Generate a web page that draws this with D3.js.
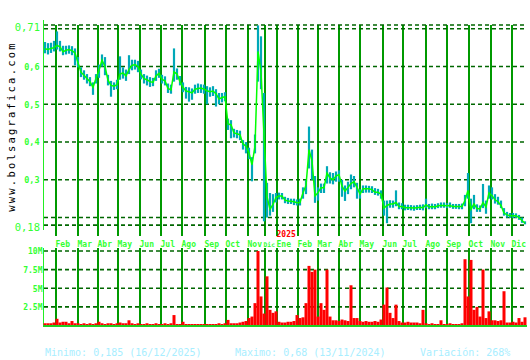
<!DOCTYPE html>
<html>
<head>
<meta charset="utf-8">
<script src="https://cdn.jsdelivr.net/npm/d3@7"></script>
<style>
  body { margin: 0; background: #fff; }
  svg { display: block; }
  text { font-family: "DejaVu Sans Mono", monospace; }
</style>
</head>
<body>
<svg id="chart"></svg>
<script>
// ---- data (one sample every 3 trading days, from mid Jan 2024 to 16/12/2025) ----
const sampleStep = 3; // trading days between samples
const totalDays = 480;

const close = [
  0.647, 0.645, 0.648, 0.650, 0.656, 0.652, 0.639, 0.643, 0.645, 0.642,
  0.636, 0.610, 0.585, 0.577, 0.568, 0.560, 0.545, 0.568, 0.590, 0.617,
  0.600, 0.564, 0.550, 0.548, 0.552, 0.580, 0.583, 0.575, 0.592, 0.603,
  0.605, 0.600, 0.580, 0.568, 0.565, 0.560, 0.558, 0.575, 0.582, 0.566,
  0.562, 0.542, 0.538, 0.586, 0.580, 0.560, 0.545, 0.535, 0.533, 0.530,
  0.540, 0.542, 0.543, 0.540, 0.536, 0.533, 0.535, 0.528, 0.514, 0.518,
  0.520, 0.448, 0.446, 0.424, 0.422, 0.419, 0.395, 0.389, 0.371, 0.340,
  0.389, 0.640, 0.585, 0.420, 0.255, 0.222, 0.235, 0.253, 0.257, 0.257,
  0.246, 0.244, 0.243, 0.242, 0.239, 0.240, 0.266, 0.285, 0.380, 0.350,
  0.257, 0.266, 0.279, 0.279, 0.318, 0.305, 0.300, 0.310, 0.314, 0.283,
  0.270, 0.280, 0.290, 0.295, 0.280, 0.262, 0.276, 0.276, 0.276, 0.274,
  0.267, 0.267, 0.262, 0.225, 0.232, 0.236, 0.236, 0.240, 0.229, 0.229,
  0.226, 0.226, 0.226, 0.225, 0.226, 0.227, 0.226, 0.234, 0.228, 0.229,
  0.228, 0.231, 0.232, 0.232, 0.231, 0.232, 0.229, 0.229, 0.229, 0.229,
  0.245, 0.272, 0.222, 0.236, 0.224, 0.223, 0.240, 0.228, 0.265, 0.258,
  0.247, 0.242, 0.232, 0.212, 0.207, 0.205, 0.205, 0.205, 0.200, 0.192,
  0.185
];
const high = [
  0.665, 0.662, 0.663, 0.668, 0.693, 0.668, 0.655, 0.655, 0.656, 0.654,
  0.648, 0.625, 0.598, 0.590, 0.580, 0.572, 0.558, 0.580, 0.605, 0.632,
  0.625, 0.578, 0.562, 0.558, 0.565, 0.627, 0.598, 0.592, 0.630, 0.618,
  0.618, 0.615, 0.592, 0.580, 0.576, 0.572, 0.570, 0.590, 0.594, 0.578,
  0.574, 0.555, 0.552, 0.648, 0.595, 0.575, 0.558, 0.546, 0.545, 0.542,
  0.552, 0.555, 0.553, 0.552, 0.548, 0.545, 0.548, 0.540, 0.530, 0.530,
  0.532, 0.462, 0.458, 0.435, 0.432, 0.430, 0.405, 0.400, 0.385, 0.360,
  0.420, 0.709, 0.680, 0.530, 0.292, 0.265, 0.262, 0.265, 0.266, 0.265,
  0.255, 0.252, 0.250, 0.250, 0.248, 0.250, 0.280, 0.300, 0.441, 0.380,
  0.310, 0.280, 0.290, 0.290, 0.336, 0.320, 0.318, 0.322, 0.325, 0.300,
  0.285, 0.295, 0.314, 0.310, 0.292, 0.275, 0.285, 0.285, 0.284, 0.283,
  0.278, 0.276, 0.272, 0.245, 0.245, 0.246, 0.245, 0.272, 0.240, 0.238,
  0.234, 0.234, 0.233, 0.232, 0.233, 0.234, 0.235, 0.250, 0.236, 0.237,
  0.236, 0.238, 0.240, 0.240, 0.238, 0.240, 0.236, 0.236, 0.236, 0.237,
  0.260, 0.318, 0.250, 0.260, 0.235, 0.232, 0.289, 0.245, 0.285, 0.280,
  0.262, 0.255, 0.245, 0.225, 0.215, 0.212, 0.212, 0.211, 0.207, 0.200,
  0.190
];
const low = [
  0.635, 0.632, 0.636, 0.640, 0.645, 0.640, 0.630, 0.632, 0.634, 0.630,
  0.603, 0.598, 0.572, 0.565, 0.555, 0.548, 0.525, 0.555, 0.570, 0.600,
  0.577, 0.550, 0.520, 0.538, 0.540, 0.565, 0.568, 0.562, 0.580, 0.590,
  0.592, 0.585, 0.566, 0.555, 0.550, 0.546, 0.548, 0.562, 0.570, 0.555,
  0.550, 0.530, 0.528, 0.560, 0.565, 0.550, 0.532, 0.515, 0.507, 0.512,
  0.528, 0.530, 0.530, 0.528, 0.500, 0.520, 0.522, 0.494, 0.500, 0.505,
  0.508, 0.432, 0.410, 0.412, 0.410, 0.405, 0.380, 0.370, 0.355, 0.296,
  0.370, 0.560, 0.540, 0.190, 0.200, 0.205, 0.215, 0.240, 0.248, 0.248,
  0.238, 0.236, 0.236, 0.233, 0.232, 0.232, 0.250, 0.262, 0.330, 0.300,
  0.239, 0.245, 0.265, 0.265, 0.290, 0.290, 0.288, 0.295, 0.295, 0.255,
  0.244, 0.262, 0.275, 0.280, 0.250, 0.250, 0.265, 0.266, 0.266, 0.265,
  0.260, 0.258, 0.250, 0.205, 0.185, 0.226, 0.226, 0.230, 0.222, 0.222,
  0.219, 0.220, 0.219, 0.218, 0.220, 0.220, 0.219, 0.225, 0.222, 0.222,
  0.222, 0.225, 0.226, 0.226, 0.225, 0.226, 0.223, 0.223, 0.222, 0.222,
  0.230, 0.250, 0.185, 0.222, 0.215, 0.215, 0.225, 0.210, 0.250, 0.248,
  0.237, 0.234, 0.225, 0.205, 0.200, 0.199, 0.199, 0.199, 0.194, 0.186,
  0.182
];
// volumen en millones
const volume = [
  0.3, 0.3, 0.3, 0.4, 0.9, 0.4, 0.5, 0.5, 0.3, 0.6,
  0.3, 0.3, 0.2, 0.3, 0.2, 0.3, 0.2, 0.3, 0.5, 0.3,
  0.2, 0.3, 0.3, 0.2, 0.3, 0.4, 0.3, 0.3, 0.7, 0.3,
  0.2, 0.3, 0.2, 0.2, 0.3, 0.2, 0.2, 0.3, 0.2, 0.2,
  0.3, 0.2, 0.3, 1.4, 0.2, 0.2, 0.5, 0.2, 0.2, 0.2,
  0.2, 0.2, 0.2, 0.2, 0.2, 0.2, 0.2, 0.2, 0.3, 0.2,
  0.3, 0.75, 0.3, 0.3, 0.3, 0.4, 0.5, 0.6, 1.0, 1.2,
  3.0, 10.0, 3.9, 1.6, 6.6, 2.1, 1.7, 1.9, 0.5, 0.4,
  0.4, 0.5, 0.5, 0.6, 1.4, 1.0, 1.1, 3.0, 8.0, 7.2,
  7.5, 1.2, 3.0, 2.1, 7.5, 1.2, 0.7, 0.7, 0.6, 0.8,
  0.7, 0.6, 5.4, 1.0, 1.0, 0.6, 0.5, 0.6, 0.5, 0.5,
  0.6, 0.5, 0.8, 2.8, 5.1, 1.7, 1.0, 2.8, 0.6, 0.4,
  0.4, 0.5, 0.4, 0.4, 0.4, 0.3, 2.1, 0.3, 0.2, 0.3,
  0.2, 0.2, 0.7, 0.2, 0.2, 0.3, 0.2, 0.2, 0.2, 0.3,
  8.9, 3.9, 8.8, 2.1, 2.5, 1.2, 7.5, 1.0, 1.9, 0.7,
  0.7, 0.6, 0.7, 4.6, 0.4, 0.4, 0.5, 0.4, 1.0, 0.5,
  1.1
];

// meses: etiqueta y dia de negociacion en que empiezan
const monthLabels = ['Feb', 'Mar', 'Abr', 'May', 'Jun', 'Jul', 'Ago', 'Sep', 'Oct', 'Nov', 'Dic',
  'Ene', 'Feb', 'Mar', 'Abr', 'May', 'Jun', 'Jul', 'Ago', 'Sep', 'Oct', 'Nov', 'Dic'];
const monthStartDays = [11, 33, 53, 73, 95, 116, 137, 160, 181, 203, 220,
  232, 253, 273, 294, 315, 338, 358, 381, 402, 424, 446, 467];
const yearLabel = '2025';
const yearStartDay = 232;

const priceGrid = [0.18, 0.2, 0.3, 0.4, 0.5, 0.6, 0.7, 0.71];
const priceTicks = [0.71, 0.6, 0.5, 0.4, 0.3, 0.18];
const priceTickLabels = ['0,71', '0,6', '0,5', '0,4', '0,3', '0,18'];
const volumeTicks = [2.5, 5, 7.5, 10];
const volumeTickLabels = ['2.5M', '5M', '7.5M', '10M'];

const statsText = ['Minimo: 0,185 (16/12/2025)', 'Maximo: 0,68 (13/11/2024)', 'Variación: 268%'];
const siteName = 'www.bolsagrafica.com';

// ---- layout ----
const W = 530, H = 360;
const plotLeft = 44, plotRight = 527;
const priceTop = 25, priceBottom = 236;
const volTop = 248, volBottom = 326;

const colors = {
  grid: '#009900', dash: '#006600', axis: '#22ee22', label: '#33ff33',
  close: '#00ff00', range: '#00a8b8', vol: '#ff0000', stats: '#a8eeff'
};

const data = close.map((c, i) => ({ day: i * sampleStep, close: c, high: high[i], low: low[i], vol: volume[i] }));

const svg = d3.select('#chart').attr('width', W).attr('height', H);

const x = d3.scaleLinear().domain([0, totalDays]).range([45, 525]);
const y = d3.scaleLinear().domain([0.18, 0.71]).range([225.1, 25.0]);
const yv = d3.scaleLinear().domain([0, 10]).range([325.5, 251]);

drawGrid();
drawPrice();
drawVolume();
drawLabels();

function drawGrid() {
  const g = svg.append('g');
  // lineas verticales de los meses
  [[priceTop, priceBottom], [volTop, volBottom]].forEach(([t, b]) => {
    g.selectAll(null).data(monthStartDays).enter().append('line')
      .attr('x1', d => Math.round(x(d))).attr('x2', d => Math.round(x(d)))
      .attr('y1', t).attr('y2', b)
      .attr('stroke', colors.grid).attr('stroke-width', 2);
  });
  // lineas horizontales discontinuas
  g.selectAll(null).data(priceGrid).enter().append('line')
    .attr('x1', plotLeft).attr('x2', plotRight)
    .attr('y1', d => y(d)).attr('y2', d => y(d))
    .attr('stroke', colors.dash).attr('stroke-width', 1.6).attr('stroke-dasharray', '4,3');
  g.selectAll(null).data(volumeTicks).enter().append('line')
    .attr('x1', plotLeft).attr('x2', plotRight)
    .attr('y1', d => yv(d)).attr('y2', d => yv(d))
    .attr('stroke', colors.dash).attr('stroke-width', 1.6).attr('stroke-dasharray', '4,3');
  // ejes
  g.append('line').attr('x1', 43.5).attr('x2', 43.5).attr('y1', 20).attr('y2', 230)
    .attr('stroke', colors.axis).attr('stroke-width', 1);
  g.append('line').attr('x1', 43.5).attr('x2', 43.5).attr('y1', volTop).attr('y2', 327)
    .attr('stroke', colors.axis).attr('stroke-width', 1);
}

function drawPrice() {
  // rango maximo-minimo de cada sesion
  svg.append('g').selectAll('line').data(data).enter().append('line')
    .attr('x1', d => x(d.day)).attr('x2', d => x(d.day))
    .attr('y1', d => y(d.high)).attr('y2', d => y(d.low))
    .attr('stroke', colors.range).attr('stroke-width', 2.2);
  // cierre
  const line = d3.line().x(d => x(d.day)).y(d => y(d.close));
  svg.append('path').datum(data).attr('d', line)
    .attr('fill', 'none').attr('stroke', colors.close).attr('stroke-width', 1.5);
}

function drawVolume() {
  svg.append('g').selectAll('rect').data(data).enter().append('rect')
    .attr('x', d => x(d.day) - 1.5).attr('width', 3)
    .attr('y', d => yv(d.vol)).attr('height', d => yv(0) - yv(d.vol))
    .attr('fill', colors.vol);
  svg.append('line').attr('x1', 43).attr('x2', plotRight).attr('y1', volBottom).attr('y2', volBottom)
    .attr('stroke', '#22cc22').attr('stroke-width', 2);
}

function drawLabels() {
  const isEnd = i => i === 0 || i === priceTicks.length - 1;
  // eje de precios
  svg.append('g').selectAll('text').data(priceTicks).enter().append('text')
    .attr('x', (d, i) => isEnd(i) ? 40 : 39.5)
    .attr('y', (d, i) => y(d) + (isEnd(i) ? 5.8 : 3.3))
    .attr('text-anchor', 'end')
    .attr('fill', colors.label)
    .attr('font-size', (d, i) => isEnd(i) ? '10.5px' : '8.5px')
    .attr('font-weight', (d, i) => isEnd(i) ? 'normal' : 'bold')
    .text((d, i) => priceTickLabels[i]);

  // eje de volumen
  svg.append('g').selectAll('text').data(volumeTicks).enter().append('text')
    .attr('x', 42.5).attr('y', d => yv(d) + 3.3)
    .attr('text-anchor', 'end').attr('fill', colors.label)
    .attr('font-size', '8px').attr('font-weight', 'bold')
    .text((d, i) => volumeTickLabels[i]);

  // meses (si no cabe hasta el mes siguiente se reduce la letra)
  const monthX = d => Math.round(x(d)) - 0.5;
  const monthSize = i => {
    const next = monthStartDays[i + 1];
    if (next === undefined) return 8;
    const room = monthX(next) - monthX(monthStartDays[i]) + 1;
    return Math.min(8, (room - 1.5) / (monthLabels[i].length * 0.602));
  };
  svg.append('g').selectAll('text').data(monthStartDays).enter().append('text')
    .attr('x', (d, i) => monthSize(i) < 8 ? monthX(d) - 1 : monthX(d)).attr('y', 247)
    .attr('fill', colors.label).attr('font-size', (d, i) => monthSize(i) + 'px').attr('font-weight', 'bold')
    .text((d, i) => monthLabels[i]);

  svg.append('text').attr('x', x(yearStartDay) - 0.5).attr('y', 236.8)
    .attr('fill', '#ff0000').attr('font-size', '8px').attr('font-weight', 'bold')
    .text(yearLabel);

  // estadisticas
  svg.append('g').selectAll('text').data(statsText).enter().append('text')
    .attr('x', (d, i) => [45, 235, 420][i]).attr('y', 356)
    .attr('fill', colors.stats).attr('font-size', '10px')
    .text(d => d);

  // nombre de la web en vertical
  svg.append('text').attr('transform', 'translate(15, 211.7) rotate(-90)')
    .attr('fill', '#000').attr('font-size', '10.5px').attr('letter-spacing', '2.2px')
    .text(siteName);
}
</script>
</body>
</html>
